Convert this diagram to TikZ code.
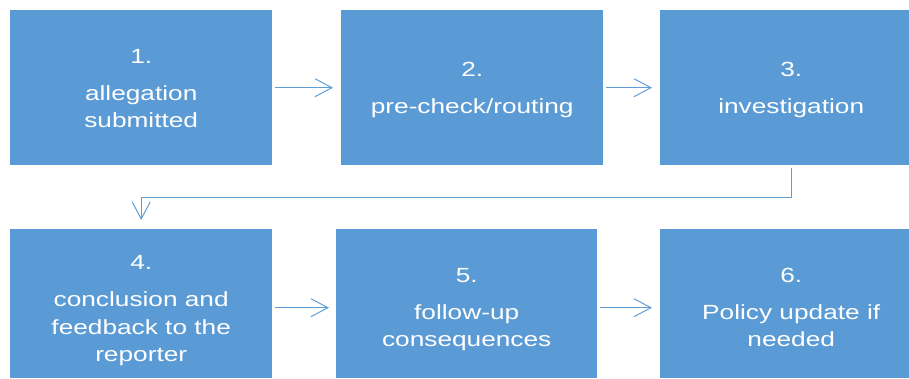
\documentclass[tikz,border=0pt]{standalone}
\usepackage{fontspec}
\setmainfont{Liberation Sans}
\newfontfamily\widefont[FakeStretch=1.28]{Liberation Sans}
\usetikzlibrary{arrows.meta,calc}
\definecolor{boxblue}{RGB}{91,155,213}
\definecolor{arrowblue}{RGB}{96,158,214}
\begin{document}
\begin{tikzpicture}[x=1pt,y=1pt,
  stepbox/.style={rectangle, fill=boxblue, draw=none, minimum width=262pt, inner sep=0pt, anchor=north west},
  boxtext/.style={text=white, font=\widefont\fontsize{20.5}{27.5}\selectfont, align=center, inner sep=0pt, anchor=north},
  conn/.style={draw=arrowblue, line width=1pt, -{Straight Barb[length=17pt,width=18pt,line width=1pt]}}]
\useasboundingbox (0,0) rectangle (909,-378);
\node[stepbox, minimum height=155pt] (b1) at (10,-10) {};
\node[stepbox, minimum height=155pt] (b2) at (341,-10) {};
\node[stepbox, minimum height=155pt] (b3) at (660,-10) {};
\node[stepbox, minimum height=149pt] (b4) at (10,-229) {};
\node[stepbox, minimum height=149pt, minimum width=261pt] (b5) at (336,-229) {};
\node[stepbox, minimum height=149pt] (b6) at (660,-229) {};

\node[boxtext] (t1) at ($(b1.north)+(0,-33)$) {\rule{0pt}{20pt}1.\\[9.5pt]allegation\\submitted};
\node[boxtext] (t2) at ($(b2.north)+(0,-46.7)$) {\rule{0pt}{20pt}2.\\[9.5pt]pre-check/routing};
\node[boxtext] (t3) at ($(b3.north)+(0,-46.7)$) {\rule{0pt}{20pt}3.\\[9.5pt]investigation};
\node[boxtext] (t4) at ($(b4.north)+(0,-20.7)$) {\rule{0pt}{20pt}4.\\[9.5pt]conclusion and\\feedback to the\\reporter};
\node[boxtext] (t5) at ($(b5.north)+(0,-33)$) {\rule{0pt}{20pt}5.\\[9.5pt]follow-up\\consequences};
\node[boxtext] (t6) at ($(b6.north)+(0,-33)$) {\rule{0pt}{20pt}6.\\[9.5pt]Policy update if\\needed};

\draw[conn] ([xshift=3pt]b1.east) -- ([xshift=-8pt]b2.west);
\draw[conn] ([xshift=3pt]b2.east) -- ([xshift=-8pt]b3.west);
\draw[conn] ([yshift=-3pt]b3.south) -- ++(0,-29) -| ([yshift=9pt]b4.north);
\draw[conn] ([shift={(3pt,-4pt)}]b4.east) -- ([shift={(-7pt,-4pt)}]b5.west);
\draw[conn] ([shift={(3pt,-4pt)}]b5.east) -- ([shift={(-8pt,-4pt)}]b6.west);
\end{tikzpicture}
\end{document}
